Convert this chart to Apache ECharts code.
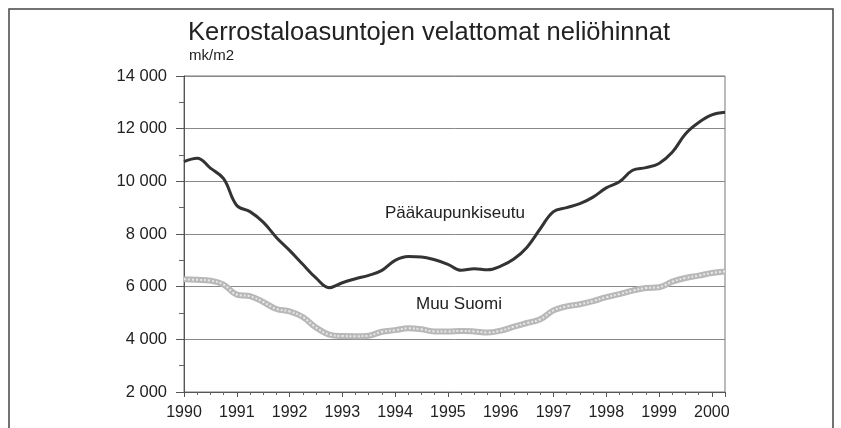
<!DOCTYPE html>
<html>
<head>
<meta charset="utf-8">
<script src="https://cdn.jsdelivr.net/npm/echarts@6/dist/echarts.min.js"></script>
<style>
html,body{margin:0;padding:0;background:#fff;}
#chart{width:841px;height:428px;}
</style>
</head>
<body>
<div id="chart"></div>
<script>
var titleText = 'Kerrostaloasuntojen velattomat neliöhinnat';
var unitText = 'mk/m2';
var seriesNames = ['Pääkaupunkiseutu', 'Muu Suomi'];

var times = [
  1990.00, 1990.25, 1990.50, 1990.75,
  1991.00, 1991.25, 1991.50, 1991.75,
  1992.00, 1992.25, 1992.50, 1992.75,
  1993.00, 1993.25, 1993.50, 1993.75,
  1994.00, 1994.25, 1994.50, 1994.75,
  1995.00, 1995.25, 1995.50, 1995.75,
  1996.00, 1996.25, 1996.50, 1996.75,
  1997.00, 1997.25, 1997.50, 1997.75,
  1998.00, 1998.25, 1998.50, 1998.75,
  1999.00, 1999.25, 1999.50, 1999.75,
  2000.00, 2000.25
];

var paakaupunkiseutu = [
  10750, 10880, 10500, 10100,
  9080, 8850, 8450, 7870,
  7380, 6850, 6330, 5960,
  6150, 6300, 6430, 6620,
  7000, 7150, 7130, 7020,
  6850, 6620, 6680, 6640,
  6780, 7050, 7500, 8200,
  8850, 9000, 9150, 9400,
  9750, 9980, 10420, 10520,
  10680, 11100, 11800, 12230,
  12520, 12620
];

var muuSuomi = [
  6280, 6260, 6230, 6080,
  5700, 5640, 5420, 5150,
  5060, 4850, 4450, 4180,
  4125, 4120, 4140, 4290,
  4350, 4420, 4380, 4300,
  4300, 4320, 4300, 4260,
  4330, 4480, 4620, 4760,
  5100, 5250, 5330, 5450,
  5600, 5720, 5850, 5950,
  5980, 6190, 6330, 6420,
  6520, 6580
];

var yTicks = [2000, 4000, 6000, 8000, 10000, 12000, 14000];
var xTicks = [1990, 1991, 1992, 1993, 1994, 1995, 1996, 1997, 1998, 1999, 2000];

function pairs(xs, ys) { return xs.map(function (x, i) { return [x, ys[i]]; }); }
function fmtThousands(v) { return String(v).replace(/\B(?=(\d{3})+(?!\d))/g, ' '); }

var FONT = "'Liberation Sans', Arial, Helvetica, sans-serif";
var chart = echarts.init(document.getElementById('chart'), null, {renderer: 'canvas'});

chart.setOption({
  animation: false,
  backgroundColor: '#ffffff',
  grid: {
    left: 184, top: 76, right: 116, bottom: 36,
    show: true, borderColor: '#777', borderWidth: 1, backgroundColor: 'transparent'
  },
  title: {
    text: titleText,
    left: 183, top: 15,
    textStyle: {fontFamily: FONT, fontSize: 25.5, fontWeight: 'normal', color: '#222'}
  },
  xAxis: {
    type: 'value',
    min: xTicks[0], max: 2000.25, interval: 1,
    axisLine: {lineStyle: {color: '#555', width: 1}},
    axisTick: {show: true, length: 5, lineStyle: {color: '#555'}},
    minorTick: {show: true, splitNumber: 4, length: 3, lineStyle: {color: '#666'}},
    splitLine: {show: false},
    axisLabel: {
      show: true, margin: 13, color: '#222', fontFamily: FONT, fontSize: 16,
      showMaxLabel: false,
      formatter: function (v) { return xTicks.indexOf(v) >= 0 ? String(v) : ''; }
    }
  },
  yAxis: {
    type: 'value',
    min: yTicks[0], max: yTicks[yTicks.length - 1], interval: 2000,
    axisLine: {show: true, lineStyle: {color: '#555', width: 1}},
    axisTick: {show: true, length: 8, lineStyle: {color: '#555'}},
    minorTick: {show: true, splitNumber: 2, length: 5, lineStyle: {color: '#666'}},
    splitLine: {show: true, lineStyle: {color: '#888', width: 1}},
    axisLabel: {
      margin: 17, color: '#222', fontFamily: FONT, fontSize: 16.5,
      formatter: function (v) { return fmtThousands(v); }
    }
  },
  series: [
    {
      name: seriesNames[1], type: 'line', smooth: 0.4, symbol: 'none',
      data: pairs(times, muuSuomi),
      lineStyle: {color: '#b8b8b8', width: 6}, z: 2
    },
    {
      name: seriesNames[1] + ' pattern', type: 'line', smooth: 0.4, symbol: 'none',
      data: pairs(times, muuSuomi),
      lineStyle: {color: '#e8e8e8', width: 2, type: [2, 2]}, z: 3, silent: true
    },
    {
      name: seriesNames[0], type: 'line', smooth: 0.4, symbol: 'none',
      data: pairs(times, paakaupunkiseutu),
      lineStyle: {color: '#333', width: 3}, z: 4
    }
  ],
  graphic: [
    {
      type: 'rect', silent: true, z: -1,
      shape: {x: 9, y: 9, width: 824, height: 440},
      style: {fill: 'none', stroke: '#444', lineWidth: 1.5}
    },
    {
      type: 'text', left: 189, top: 48,
      style: {text: unitText, font: '15px ' + FONT, fill: '#222'}
    },
    {
      type: 'text', left: 385, top: 205,
      style: {text: seriesNames[0], font: '17px ' + FONT, fill: '#222'}
    },
    {
      type: 'text', left: 416, top: 296,
      style: {text: seriesNames[1], font: '17px ' + FONT, fill: '#222'}
    }
  ]
});
</script>
</body>
</html>
